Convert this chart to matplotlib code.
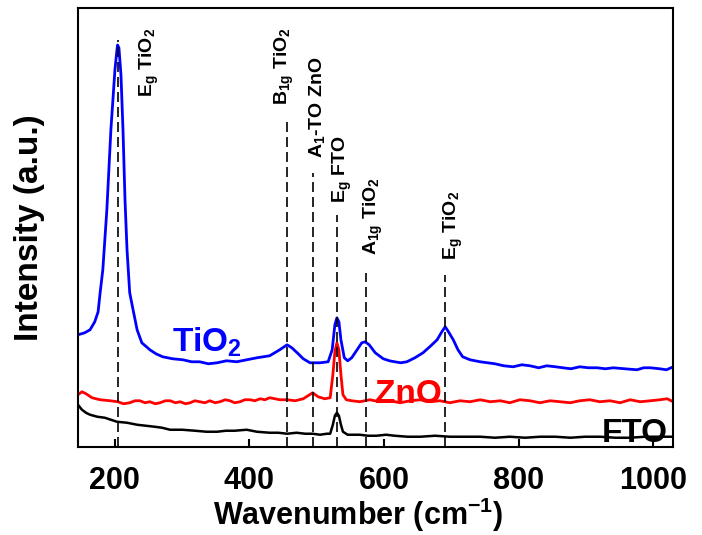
import matplotlib
matplotlib.use("Agg")
from matplotlib import pyplot as plt

# Raman spectra (x in cm-1, intensity in a.u.)
tio2_x = [145, 155, 163, 170, 175, 178, 182, 185, 188, 191, 194, 197, 200, 203, 204, 206,
          209, 212, 215, 218, 222, 227, 233, 240, 252, 261, 271, 286, 301, 314, 326, 339,
          352, 366, 381, 396, 411, 430, 445, 456, 463, 471, 480, 490, 505, 517, 523, 527,
          530, 533, 536, 541, 546, 552, 560, 567, 572, 578, 587, 599, 608, 616, 625, 634,
          646, 658, 668, 679, 686, 691, 695, 703, 710, 717, 728, 743, 754, 765, 778, 792,
          805, 817, 830, 842, 855, 866, 878, 891, 904, 917, 929, 941, 958, 976, 986, 996,
          1010, 1020, 1030]
tio2_y = [112, 114, 117, 125, 135, 154, 177, 207, 237, 277, 317, 347, 377, 397, 402, 399,
          372, 317, 247, 197, 154, 137, 117, 104, 97, 93, 90, 88, 87, 85, 85, 83,
          84, 86, 85, 87, 89, 91, 97, 102, 99, 94, 88, 84, 84, 85, 97, 122,
          129, 125, 107, 89, 86, 89, 97, 104, 105, 102, 94, 88, 86, 85, 84, 85,
          89, 94, 100, 107, 115, 120, 116, 107, 97, 90, 87, 85, 84, 83, 81, 80,
          82, 81, 79, 81, 80, 79, 78, 80, 79, 79, 78, 79, 78, 77, 79, 79,
          78, 77, 80]

zno_x = [145, 151, 157, 166, 178, 193, 204, 213, 222, 230, 237, 245, 252, 260, 267, 275,
         282, 290, 297, 305, 312, 319, 326, 334, 341, 349, 356, 364, 371, 378, 386, 393,
         401, 408, 416, 423, 430, 438, 445, 456, 468, 480, 487, 494, 502, 512, 520, 524,
         527, 530, 533, 536, 539, 544, 552, 564, 579, 594, 609, 624, 639, 654, 668, 683,
         698, 713, 728, 743, 758, 773, 787, 802, 817, 832, 847, 862, 877, 891, 906, 921,
         936, 951, 966, 981, 996, 1010, 1021, 1030]
zno_y = [52, 55, 53, 49, 47, 46, 45, 43, 44, 46, 46, 44, 45, 43, 44, 46,
         46, 44, 45, 43, 44, 46, 45, 44, 46, 44, 45, 47, 46, 44, 45, 47,
         47, 46, 48, 47, 49, 48, 47, 47, 46, 48, 51, 54, 50, 48, 49, 72,
         95, 104, 97, 72, 52, 47, 46, 45, 47, 45, 46, 44, 46, 47, 45, 46,
         44, 46, 45, 47, 45, 46, 44, 47, 46, 44, 46, 45, 44, 46, 47, 45,
         46, 44, 47, 45, 46, 47, 48, 45]

fto_x = [145, 151, 157, 163, 174, 185, 194, 203, 218, 233, 246, 259, 270, 282, 300, 319,
         336, 352, 365, 378, 396, 411, 430, 443, 456, 470, 483, 494, 505, 515, 520, 524,
         527, 530, 533, 536, 539, 546, 555, 564, 576, 589, 603, 616, 635, 654, 676, 698,
         720, 743, 765, 787, 810, 832, 855, 877, 899, 921, 944, 966, 988, 1010, 1030]
fto_y = [42, 37, 34, 32, 30, 29, 27, 25, 24, 22, 21, 20, 19, 17, 17, 16,
         15, 15, 16, 16, 17, 15, 14, 14, 13, 14, 13, 13, 12, 13, 13, 22,
         31, 34, 31, 22, 15, 12, 12, 12, 11, 11, 12, 11, 10, 10, 11, 10,
         10, 10, 9, 10, 9, 10, 10, 9, 10, 10, 9, 9, 10, 10, 10]

# assigned bands: line position, top of dashed line, label, label x, label bottom
band_x = [204, 456, 494, 530, 573, 691]
band_top = [407, 330, 274, 232, 174, 172]
band_labels = [r"E$_\mathregular{g}$ TiO$_\mathregular{2}$",
               r"B$_\mathregular{1g}$ TiO$_\mathregular{2}$",
               r"A$_\mathregular{1}$-TO ZnO",
               r"E$_\mathregular{g}$ FTO",
               r"A$_\mathregular{1g}$ TiO$_\mathregular{2}$",
               r"E$_\mathregular{g}$ TiO$_\mathregular{2}$"]
label_x = [233, 435, 486, 520, 567, 686]
label_y = [350, 342, 289, 244, 192, 187]

xticks = [200, 400, 600, 800, 1000]

plt.rcParams["font.family"] = ["Liberation Sans", "DejaVu Sans"]
plt.rcParams["font.weight"] = "bold"

fig = plt.figure(figsize=(7.02, 5.35), dpi=100)
ax = fig.add_axes([0.111, 0.165, 0.848, 0.820])

ax.plot(tio2_x, tio2_y, color="#0000ff", lw=2.0)
ax.plot(zno_x, zno_y, color="#ff0000", lw=2.0)
ax.plot(fto_x, fto_y, color="black", lw=1.8)

for bx, bt in zip(band_x, band_top):
    ax.plot([bx, bx], [0, bt], color="black", lw=1.2, dashes=(6, 3))

for txt, lx, ly in zip(band_labels, label_x, label_y):
    ax.text(lx, ly, txt, rotation=90, ha="left", va="bottom", fontsize=14, fontweight="bold")

ax.text(285, 95, r"TiO$_\mathregular{2}$", color="#0000ff", fontsize=24, fontweight="bold",
        ha="left", va="baseline")
ax.text(587, 44, "ZnO", color="#ff0000", fontsize=24, fontweight="bold", ha="left", va="baseline")
ax.text(924, 5, "FTO", color="black", fontsize=24, fontweight="bold", ha="left", va="baseline")

ax.set_xlim(145, 1030)
ax.set_ylim(0, 439)
ax.set_xticks(xticks)
ax.set_yticks([])
ax.tick_params(axis="x", direction="in", length=6, width=1.5, pad=14, labelsize=22)
for lab in ax.get_xticklabels():
    lab.set_fontweight("bold")
for sp in ax.spines.values():
    sp.set_linewidth(1.5)

ax.set_xlabel(r"Wavenumber (cm$^\mathregular{-1}$)", fontsize=22, fontweight="bold", va="center")
ax.xaxis.set_label_coords(0.47, -0.155)
ax.set_ylabel("Intensity (a.u.)", fontsize=24, fontweight="bold", va="center")
ax.yaxis.set_label_coords(-0.081, 0.5)

fig.savefig("out.png", dpi=100)
